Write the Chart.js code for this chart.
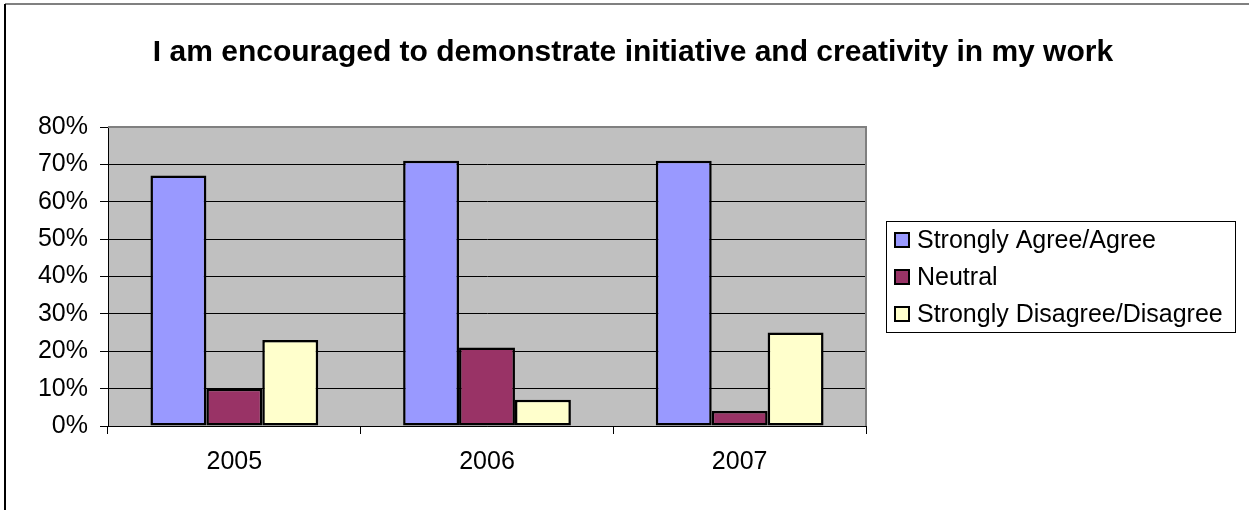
<!DOCTYPE html>
<html>
<head>
<meta charset="utf-8">
<script src="https://cdn.jsdelivr.net/npm/chart.js@4.4.0/dist/chart.umd.min.js"></script>
<style>
  html, body { margin: 0; padding: 0; background: #fff; }
  #wrap { width: 1249px; height: 510px; }
</style>
</head>
<body>
<div id="wrap"><canvas id="surveyChart" width="1249" height="510"></canvas></div>
<script>
const title = "I am encouraged to demonstrate initiative and creativity in my work";
const years = ["2005", "2006", "2007"];
const agree = [67, 71, 71];
const neutral = [10, 21, 4];
const disagree = [23, 7, 25];
const seriesNames = ["Strongly Agree/Agree", "Neutral", "Strongly Disagree/Disagree"];
const seriesColors = ["#9999FF", "#993366", "#FFFFCC"];
const FONT = "'Liberation Sans', Arial, sans-serif";

// grey plot background, frame, title, legend box
const decor = {
  id: "decor",
  beforeDraw(chart) {
    const { ctx, chartArea: a } = chart;
    ctx.save();
    ctx.fillStyle = "#C0C0C0";
    ctx.fillRect(a.left, a.top, a.right - a.left, a.bottom - a.top);
    ctx.restore();
  },
  afterDraw(chart) {
    const { ctx, chartArea: a } = chart;
    ctx.save();
    // plot frame top/right
    ctx.strokeStyle = "#808080";
    ctx.lineWidth = 2;
    ctx.beginPath();
    ctx.moveTo(a.left, a.top);
    ctx.lineTo(a.right, a.top);
    ctx.lineTo(a.right, a.bottom);
    ctx.stroke();

    // outer chart border (top and left edges)
    ctx.strokeStyle = "#808080";
    ctx.beginPath();
    ctx.moveTo(5, 4);
    ctx.lineTo(1249, 4);
    ctx.stroke();
    ctx.strokeStyle = "#000";
    ctx.beginPath();
    ctx.moveTo(5, 4);
    ctx.lineTo(5, 510);
    ctx.stroke();

    // title
    ctx.fillStyle = "#000";
    ctx.font = "bold 30px " + FONT;
    ctx.textAlign = "center";
    ctx.textBaseline = "middle";
    ctx.fillText(title, 633, 53);

    // legend
    const lx = 886, ly = 221, lw = 349, lh = 111;
    ctx.fillStyle = "#fff";
    ctx.fillRect(lx, ly, lw, lh);
    ctx.strokeStyle = "#000";
    ctx.lineWidth = 1;
    ctx.strokeRect(lx + 0.5, ly + 0.5, lw, lh);
    ctx.font = "25px " + FONT;
    ctx.textAlign = "left";
    chart.data.datasets.forEach((ds, i) => {
      const cy = 240 + i * 37;
      ctx.fillStyle = ds.backgroundColor;
      ctx.fillRect(895, cy - 7, 14, 14);
      ctx.lineWidth = 2;
      ctx.strokeRect(895, cy - 7, 14, 14);
      ctx.fillStyle = "#000";
      ctx.fillText(ds.label, 917, cy + 1);
    });
    ctx.restore();
  }
};

const datasets = [agree, neutral, disagree].map((vals, i) => ({
  label: seriesNames[i],
  data: vals,
  backgroundColor: seriesColors[i],
  borderColor: "#000",
  borderWidth: 2.5,
  borderSkipped: false,
  categoryPercentage: 0.664,
  barPercentage: 1
}));

new Chart(document.getElementById("surveyChart"), {
  type: "bar",
  data: { labels: years, datasets },
  plugins: [decor],
  options: {
    responsive: false,
    animation: false,
    layout: { padding: { left: 20, top: 127, right: 383, bottom: 0 } },
    plugins: { legend: { display: false }, title: { display: false }, tooltip: { enabled: false } },
    scales: {
      x: {
        afterFit: s => { s.height = 84; },
        grid: { offset: true, drawOnChartArea: false, color: "#000", tickLength: 8 },
        border: { color: "#000", width: 1 },
        ticks: { color: "#000", padding: 13, font: { family: FONT, size: 25 } }
      },
      y: {
        min: 0, max: 80,
        afterFit: s => { s.width = 88; },
        grid: { color: "#000", lineWidth: 1, tickLength: 8 },
        border: { color: "#000", width: 1 },
        ticks: { stepSize: 10, color: "#000", padding: 12, font: { family: FONT, size: 25 },
                 callback: v => v + "%" }
      }
    }
  }
});
</script>
</body>
</html>
